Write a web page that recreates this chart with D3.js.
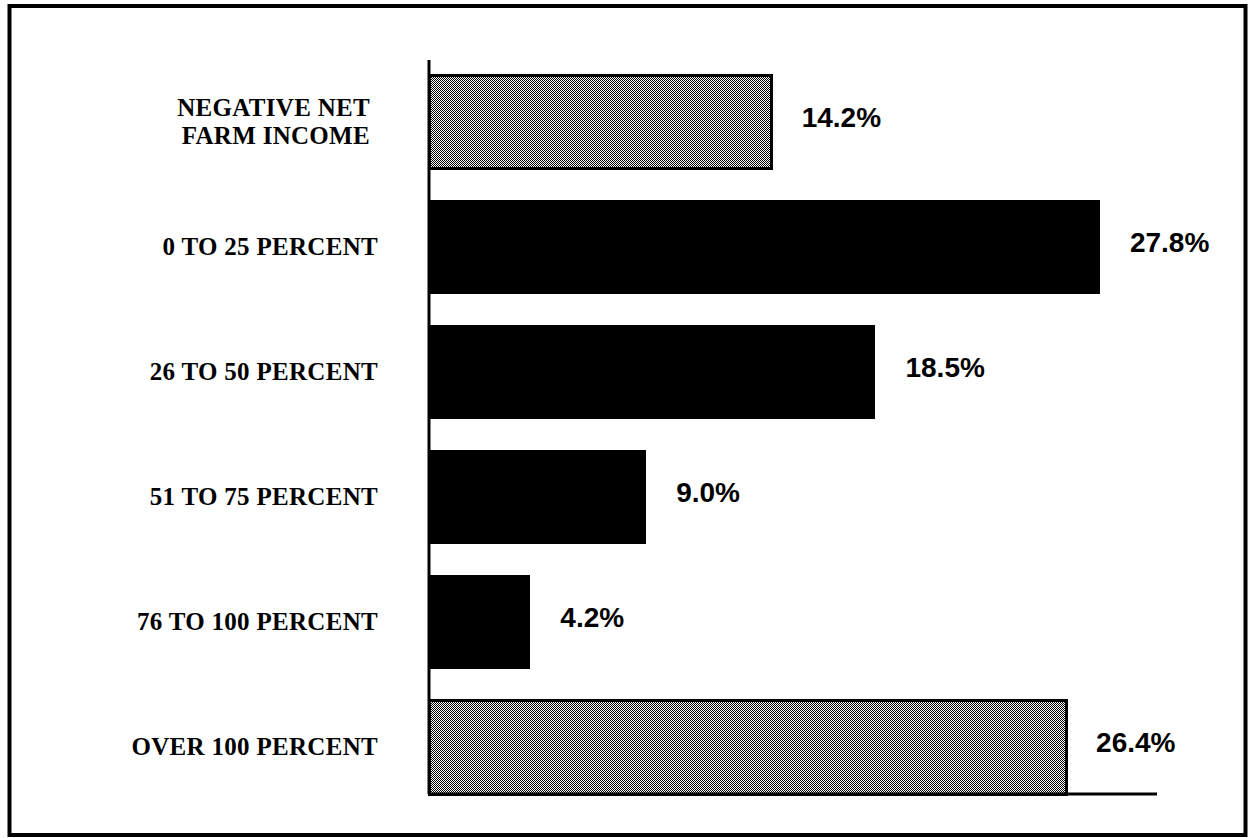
<!DOCTYPE html>
<html>
<head>
<meta charset="utf-8">
<script src="https://cdn.jsdelivr.net/npm/d3@7"></script>
<style>
  body { margin: 0; background: #fff; }
  svg { display: block; }
</style>
</head>
<body>
<div id="chart"></div>
<script>
// categories (top to bottom), values and which bars are shaded
const categories = ["NEGATIVE NET|FARM INCOME", "0 TO 25 PERCENT", "26 TO 50 PERCENT",
                    "51 TO 75 PERCENT", "76 TO 100 PERCENT", "OVER 100 PERCENT"];
const values = [14.2, 27.8, 18.5, 9.0, 4.2, 26.4];
const shaded = [true, false, false, false, false, true];

const W = 1249, H = 838;

const svg = d3.select("#chart").append("svg")
    .attr("width", W)
    .attr("height", H);

// dithered gray fill like the scanned original
const pat = svg.append("defs").append("pattern")
    .attr("id", "dither")
    .attr("patternUnits", "userSpaceOnUse")
    .attr("width", 2).attr("height", 2);
pat.append("rect").attr("width", 2).attr("height", 2).attr("fill", "#fff");
pat.append("rect").attr("x", 0).attr("y", 0).attr("width", 1).attr("height", 1).attr("fill", "#000");
pat.append("rect").attr("x", 1).attr("y", 1).attr("width", 1).attr("height", 1).attr("fill", "#000");

// outer frame
svg.append("rect")
    .attr("x", 9.5).attr("y", 6)
    .attr("width", 1236).attr("height", 829)
    .attr("fill", "none")
    .attr("stroke", "#000")
    .attr("stroke-width", 4);

var x = d3.scaleLinear().domain([0, 30]).range([429, 1153]);
var y = d3.scaleBand()
    .domain(categories)
    .range([75, 794])
    .paddingInner(0.25)
    .paddingOuter(0);

const rows = categories.map((c, i) => ({cat: c, value: values[i], shaded: shaded[i]}));

// bars
svg.append("g")
    .selectAll("rect")
    .data(rows)
    .enter()
    .append("rect")
    .attr("x", x(0))
    .attr("y", d => y(d.cat))
    .attr("width", d => x(d.value) - x(0))
    .attr("height", y.bandwidth())
    .attr("fill", d => d.shaded ? "url(#dither)" : "#000")
    .attr("stroke", "#000")
    .attr("stroke-width", d => d.shaded ? 3 : 0)
    .attr("shape-rendering", "crispEdges");

// axis lines: vertical at zero, baseline at bottom
svg.append("line")
    .attr("x1", x(0)).attr("x2", x(0))
    .attr("y1", 60).attr("y2", y.range()[1])
    .attr("stroke", "#000").attr("stroke-width", 3);
svg.append("line")
    .attr("x1", x(0)).attr("x2", 1157)
    .attr("y1", y.range()[1]).attr("y2", y.range()[1])
    .attr("stroke", "#000").attr("stroke-width", 3);

// category labels
const catLabels = svg.append("g")
    .selectAll("text")
    .data(rows)
    .enter()
    .append("text")
    .attr("text-anchor", "end")
    .attr("font-family", "'Liberation Serif', 'Times New Roman', serif")
    .attr("font-weight", "bold")
    .attr("font-size", 25)
    .attr("letter-spacing", 0.3)
    .attr("fill", "#000");
catLabels.each(function(d) {
    const lines = d.cat.split("|");
    const cy = y(d.cat) + y.bandwidth() / 2;
    const t = d3.select(this);
    lines.forEach((ln, k) => {
        t.append("tspan")
            .attr("x", lines.length > 1 ? 370 : 378)
            .attr("y", cy + 8 + (k - (lines.length - 1) / 2) * 28)
            .text(ln);
    });
});

// value labels
svg.append("g")
    .selectAll("text")
    .data(rows)
    .enter()
    .append("text")
    .attr("x", d => x(d.value) + 30)
    .attr("y", d => y(d.cat) + y.bandwidth() / 2 + 5)
    .attr("font-family", "'Liberation Sans', Arial, sans-serif")
    .attr("font-weight", "bold")
    .attr("font-size", 28)
    .attr("fill", "#000")
    .text(d => d.value.toFixed(1) + "%");
</script>
</body>
</html>
